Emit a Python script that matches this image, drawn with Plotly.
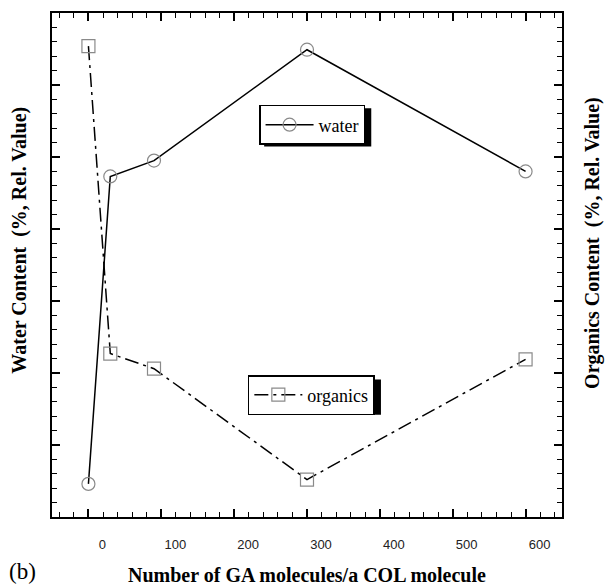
import plotly.graph_objects as go

# data (x in GA/COL units, y in relative units; axes have no y labels)
ga_ratio = [0, 30, 90, 300, 600]
water = [0.46, 4.73, 4.95, 6.49, 4.80]
organics = [6.54, 2.27, 2.06, 0.52, 2.19]
x_tick_vals = [0, 100, 200, 300, 400, 500, 600]
x_tick_text = ["0", "100", "200", "300", "400", "500", "600"]

SERIF = "Liberation Serif, Times New Roman, serif"
SANS = "Liberation Sans, Arial, sans-serif"

fig = go.Figure()
fig.add_trace(go.Scatter(
    x=ga_ratio, y=water, name="water", mode="lines+markers",
    line=dict(color="black", width=1.5),
    marker=dict(symbol="circle-open", size=13, color="#8a8a8a", line=dict(width=1.2, color="#8a8a8a")),
    legend="legend", yaxis="y"))
fig.add_trace(go.Scatter(
    x=ga_ratio, y=organics, name="organics", mode="lines+markers",
    line=dict(color="black", width=1.5, dash="14px,5px,3px,5px"),
    marker=dict(symbol="square-open", size=13, color="#8a8a8a", line=dict(width=1.2, color="#8a8a8a")),
    legend="legend2", yaxis="y2"))

axis_common = dict(showgrid=False, zeroline=False, showline=True, linecolor="black", linewidth=2,
                   ticks="inside", ticklen=8, tickwidth=1.5, tickcolor="black")

fig.update_layout(
    width=613, height=586,
    margin=dict(l=52, r=51, t=13, b=69),
    paper_bgcolor="white", plot_bgcolor="white",
    showlegend=True,
    xaxis=dict(range=[-50, 650], tickvals=x_tick_vals, ticktext=x_tick_text, mirror="ticks",
               tickfont=dict(family=SANS, size=13, color="#222"), ticklabelshift=14, ticklabelstandoff=14,
               minor=dict(dtick=20, tick0=0, ticks="inside", ticklen=5, tickwidth=1.2, tickcolor="black"),
               **axis_common),
    yaxis=dict(range=[0, 7], dtick=1, tick0=0, showticklabels=False,
               minor=dict(dtick=0.2, ticks="inside", ticklen=5, tickwidth=1.2, tickcolor="black"),
               **axis_common),
    yaxis2=dict(range=[0, 7], dtick=1, tick0=0, showticklabels=False, overlaying="y", side="right",
                minor=dict(dtick=0.2, ticks="inside", ticklen=5, tickwidth=1.2, tickcolor="black"),
                **axis_common),
    legend=dict(x=0.406, y=0.8175, xanchor="left", yanchor="top", bgcolor="white",
                bordercolor="black", borderwidth=1.5, itemwidth=48,
                font=dict(family=SERIF, size=18, color="black")),
    legend2=dict(x=0.384, y=0.2817, xanchor="left", yanchor="top", bgcolor="white",
                 bordercolor="black", borderwidth=1.5, itemwidth=48,
                 font=dict(family=SERIF, size=18, color="black")),
)

# drop shadows behind the two legend boxes
fig.add_shape(type="rect", xref="paper", yref="paper", x0=0.416, x1=0.626, y0=0.735, y1=0.811,
              fillcolor="black", line=dict(width=0), layer="above")
fig.add_shape(type="rect", xref="paper", yref="paper", x0=0.394, x1=0.645, y0=0.203, y1=0.273,
              fillcolor="black", line=dict(width=0), layer="above")

title_font = dict(family=SERIF, size=20, color="black")
fig.add_annotation(text="<b>Water Content  (%, Rel. Value)</b>", textangle=-90,
                   xref="paper", yref="paper", x=-0.064, y=0.549, xanchor="center", yanchor="middle",
                   showarrow=False, font=title_font)
fig.add_annotation(text="<b>Organics Content  (%, Rel. Value)</b>", textangle=-90,
                   xref="paper", yref="paper", x=1.06, y=0.543, xanchor="center", yanchor="middle",
                   showarrow=False, font=title_font)
fig.add_annotation(text="<b>Number of GA molecules/a COL molecule</b>",
                   xref="paper", yref="paper", x=0.5, y=-0.115, xanchor="center", yanchor="middle",
                   showarrow=False, font=title_font)
fig.add_annotation(text="(b)", xref="paper", yref="paper", x=-0.088, y=-0.108,
                   xanchor="left", yanchor="middle", showarrow=False,
                   font=dict(family=SERIF, size=23, color="black"))

fig.write_html("out.html", config={"displayModeBar": False},
               post_script="document.body.style.margin='0';document.body.style.overflow='hidden';")
